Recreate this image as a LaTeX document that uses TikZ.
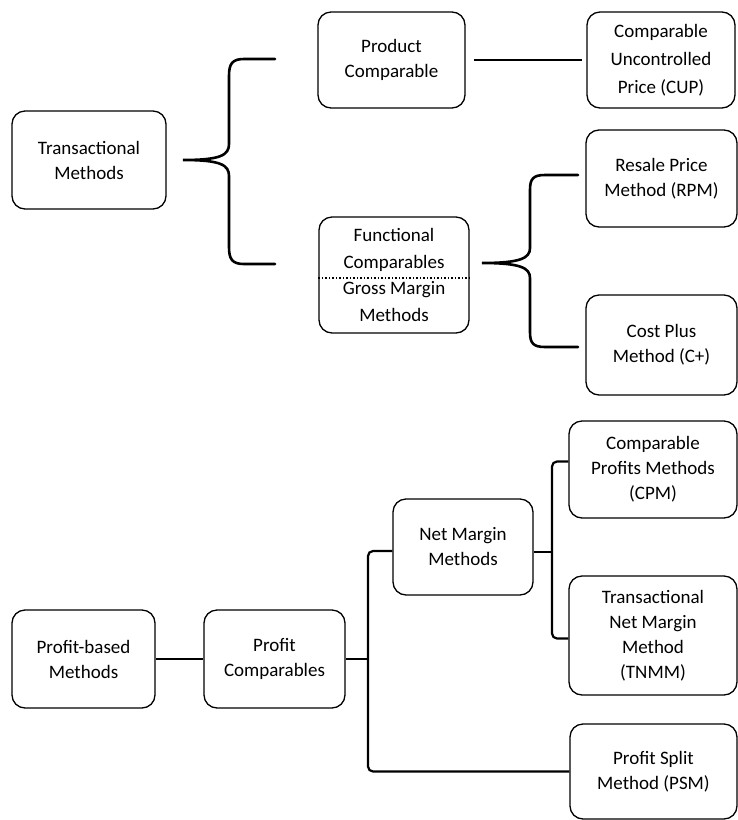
\documentclass[tikz,border=0pt]{standalone}
\usepackage{fontspec}
\setmainfont{Carlito}
\usepackage{tikz}
\usetikzlibrary{arrows.meta}

\begin{document}
\begin{tikzpicture}[x=1pt,y=-1pt,draw=black!100]
	\def \colone{89}
	\def \coltwo{394}
	\def \colthree{658}
	\tikzstyle{box}=[rectangle,rounded corners=13pt,draw=black!100,line width=1.3pt,align=center,inner sep=2pt,font=\fontsize{19}{25}\selectfont]
	\tikzstyle{brace}=[line width=2.6pt,line cap=round]
	\tikzstyle{tree}=[line width=2.2pt,rounded corners=5pt]
	\useasboundingbox (0,0) rectangle (737,820);

	% transactional methods
	\node[box,minimum width=154pt,minimum height=98pt] 	(tm)	at (\colone,160)	{Transactional\\Methods};
	\node[box,minimum width=147pt,minimum height=96pt] 	(pc)	at (391.5,60)	{Product\\Comparable};
	\node[box,minimum width=150pt,minimum height=116pt,font=\fontsize{19}{26.5}\selectfont] 	(fc)	at (\coltwo,275)	{Functional\\Comparables\\Gross Margin\\Methods};
	\node[box,minimum width=148pt,minimum height=96pt,font=\fontsize{19}{28}\selectfont] 	(cup)	at (661,60)	{Comparable\\Uncontrolled\\Price (CUP)};
	\node[box,minimum width=151pt,minimum height=97pt] 	(rpm)	at (661.5,178.5)	{Resale Price\\Method (RPM)};
	\node[box,minimum width=151pt,minimum height=100pt] 	(cplus)	at (661.5,345)	{Cost Plus\\Method (C+)};

	% profit-based methods
	\node[box,minimum width=143pt,minimum height=98pt] 	(pbm)	at (83.5,659)	{Profit-based\\Methods};
	\node[box,minimum width=141pt,minimum height=98pt] 	(pcomp)	at (274.5,659)	{Profit\\Comparables};
	\node[box,minimum width=140pt,minimum height=96pt] 	(nmm)	at (463,547)	{Net Margin\\Methods};
	\node[box,minimum width=168pt,minimum height=97pt] 	(cpm)	at (653,469.5)	{Comparable\\Profits Methods\\(CPM)};
	\node[box,minimum width=168pt,minimum height=119pt] 	(tnmm)	at (653,635.5)	{Transactional\\Net Margin\\Method\\(TNMM)};
	\node[box,minimum width=167pt,minimum height=95pt] 	(psm)	at (653.5,771.5)	{Profit Split\\Method (PSM)};

	% divider inside the functional box
	\draw[dotted,line width=1.5pt] ([yshift=-3pt]fc.west) -- ([yshift=-3pt]fc.east);

	% braces
	\coordinate (tip1) at (183,160);
	\coordinate (tip2) at (482,263);
	\draw[brace] (275,59) -- (244,59) .. controls (232,59) and (229,64) .. (229,76)
		-- (229,144) .. controls (229,155) and (221,160) .. (tip1)
		.. controls (221,160) and (229,165) .. (229,176)
		-- (229,247) .. controls (229,259) and (232,264) .. (244,264) -- (275,264);
	\draw[brace] (578,175) -- (545,175) .. controls (533,175) and (530,179) .. (530,190)
		-- (530,248) .. controls (530,258) and (521,263) .. (tip2)
		.. controls (521,263) and (530,268) .. (530,278)
		-- (530,332) .. controls (530,343) and (533,347) .. (545,347) -- (578,347);

	\draw[line width=2.2pt,shorten <=8pt,shorten >=4pt] (pc.east) -- (cup.west);

	% tree below
	\coordinate (j1) at (368,659);
	\coordinate (j2) at (552,552);
	\draw[tree] (pbm.east) -- (pcomp.west);
	\draw[tree] (pcomp.east) -- (j1);
	\draw[tree] ([yshift=-4pt]nmm.west) -| (j1) |- (psm.west);
	\draw[tree] ([yshift=-5pt]nmm.east) -- (j2);
	\draw[tree] ([yshift=8pt]cpm.west) -| (j2) |- ([yshift=-3pt]tnmm.west);

\end{tikzpicture}
\end{document}
